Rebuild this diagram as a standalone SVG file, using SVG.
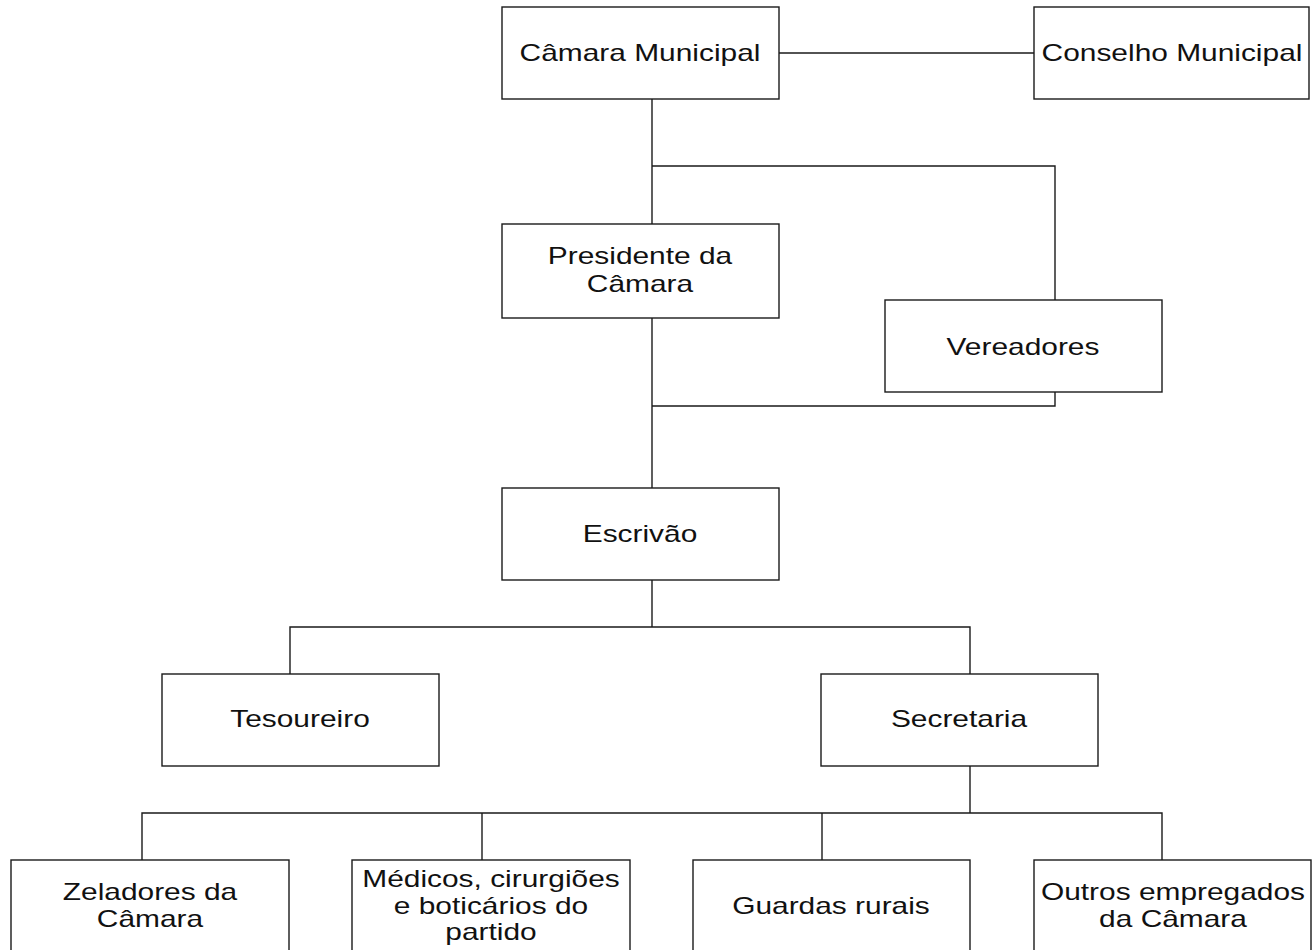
<svg xmlns="http://www.w3.org/2000/svg" width="1312" height="950" viewBox="0 0 1312 950">
  <style>
    .box { fill: #ffffff; stroke: #1a1a1a; stroke-width: 1.4; }
    .wire { fill: none; stroke: #1a1a1a; stroke-width: 1.4; }
    .lbl { font-family: "Liberation Sans", Arial, sans-serif; font-size: 23px; fill: #111111; text-anchor: middle; }
  </style>
  <rect width="1312" height="950" fill="#ffffff"/>

  <!-- connectors -->
  <g id="connectors" class="wire">
    <path d="M779 53 H1034"/>
    <path d="M652 99 V224"/>
    <path d="M652 166 H1055 V300"/>
    <path d="M652 318 V488"/>
    <path d="M652 406 H1055 V392"/>
    <path d="M652 580 V627"/>
    <path d="M290 674 V627 H970 V674"/>
    <path d="M970 766 V813"/>
    <path d="M142 860 V813 H1162 V860"/>
    <path d="M482 813 V860"/>
    <path d="M822 813 V860"/>
  </g>

  <g id="camara-municipal">
    <rect class="box" x="502" y="7" width="277" height="92"/>
    <text class="lbl" transform="translate(640 61) scale(1.3 1)">Câmara Municipal</text>
  </g>

  <g id="conselho-municipal">
    <rect class="box" x="1034" y="7" width="275" height="92"/>
    <text class="lbl" transform="translate(1172 61) scale(1.3 1)">Conselho Municipal</text>
  </g>

  <g id="presidente">
    <rect class="box" x="502" y="224" width="277" height="94"/>
    <text class="lbl" transform="translate(640 264) scale(1.3 1)"><tspan x="0" y="0">Presidente da</tspan><tspan x="0" y="28">Câmara</tspan></text>
  </g>

  <g id="vereadores">
    <rect class="box" x="885" y="300" width="277" height="92"/>
    <text class="lbl" transform="translate(1023 355) scale(1.3 1)">Vereadores</text>
  </g>

  <g id="escrivao">
    <rect class="box" x="502" y="488" width="277" height="92"/>
    <text class="lbl" transform="translate(640 542) scale(1.3 1)">Escrivão</text>
  </g>

  <g id="tesoureiro">
    <rect class="box" x="162" y="674" width="277" height="92"/>
    <text class="lbl" transform="translate(300 727) scale(1.3 1)">Tesoureiro</text>
  </g>

  <g id="secretaria">
    <rect class="box" x="821" y="674" width="277" height="92"/>
    <text class="lbl" transform="translate(959 727) scale(1.3 1)">Secretaria</text>
  </g>

  <g id="zeladores">
    <rect class="box" x="11" y="860" width="278" height="100"/>
    <text class="lbl" transform="translate(150 900) scale(1.3 1)"><tspan x="0" y="0">Zeladores da</tspan><tspan x="0" y="27">Câmara</tspan></text>
  </g>

  <g id="medicos">
    <rect class="box" x="352" y="860" width="278" height="100"/>
    <text class="lbl" transform="translate(491 887) scale(1.3 1)"><tspan x="0" y="0">Médicos, cirurgiões</tspan><tspan x="0" y="26.7">e boticários do</tspan><tspan x="0" y="53.4">partido</tspan></text>
  </g>

  <g id="guardas-rurais">
    <rect class="box" x="693" y="860" width="277" height="100"/>
    <text class="lbl" transform="translate(831 914) scale(1.3 1)">Guardas rurais</text>
  </g>

  <g id="outros-empregados">
    <rect class="box" x="1034" y="860" width="277" height="100"/>
    <text class="lbl" transform="translate(1173 900) scale(1.3 1)"><tspan x="0" y="0">Outros empregados</tspan><tspan x="0" y="27">da Câmara</tspan></text>
  </g>
</svg>
